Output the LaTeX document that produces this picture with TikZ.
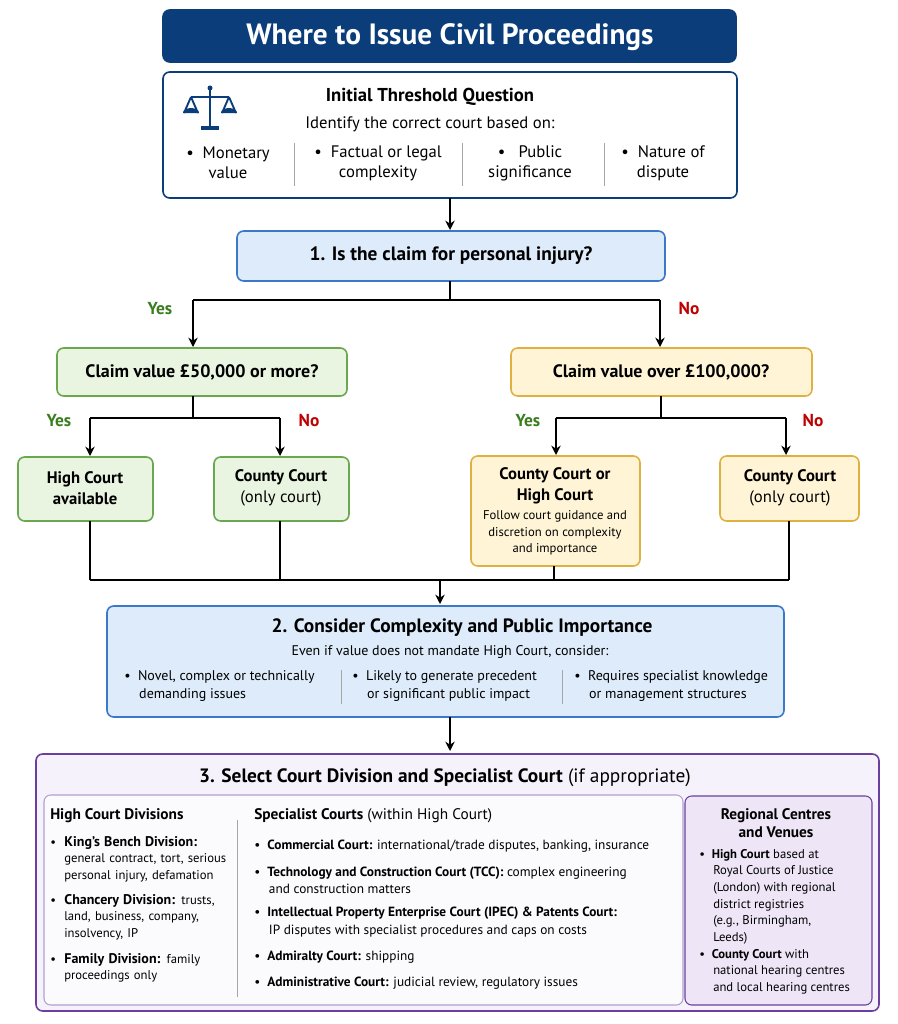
\documentclass[tikz,border=0pt]{standalone}
\usepackage{fontspec}
\setmainfont{PT Sans}
\usetikzlibrary{arrows.meta}
\definecolor{navy}{HTML}{0B3D7A}
\definecolor{bfill}{HTML}{DDEBFA}
\definecolor{bline}{HTML}{3A78C8}
\definecolor{gfill}{HTML}{E9F4E1}
\definecolor{gline}{HTML}{6AA84F}
\definecolor{gtext}{HTML}{3A7D1E}
\definecolor{yfill}{HTML}{FFF5D6}
\definecolor{yline}{HTML}{E0B040}
\definecolor{rtext}{HTML}{C00000}
\definecolor{pfill}{HTML}{F6F2FB}
\definecolor{pline}{HTML}{6A3FA0}
\definecolor{pfill2}{HTML}{EEE6F7}
\begin{document}
\begin{tikzpicture}[x=0.75pt,y=-0.75pt,
  box/.style={rounded corners=5pt,line width=1.2pt},
  arr/.style={line width=1.1pt,-{Stealth[length=7pt,width=7pt]}},
  ln/.style={line width=1.1pt},
  yes/.style={text=gtext,font=\bfseries\fontsize{13}{15}\selectfont},
  no/.style={text=rtext,font=\bfseries\fontsize{13}{15}\selectfont},
  t/.style={inner sep=0pt,align=center},
  sep/.style={draw=gray!70,line width=0.7pt}]
\useasboundingbox (0,0) rectangle (897,1024);
\fill[white] (0,0) rectangle (897,1024);
% title
\draw[box,fill=navy,draw=navy] (163,10) rectangle (736,62);
\node[t,text=white,font=\bfseries\fontsize{22}{26}\selectfont] (title) at (450,37) {Where to Issue Civil Proceedings};
% initial box
\draw[box,draw=navy,fill=white] (163,72) rectangle (737,198);
\begin{scope}[navy,line width=1.4pt]
\draw (210,88) -- (210,126); \draw (191,97) -- (229,97);
\fill (201,126) rectangle (219,130);
\draw (191,97) -- (184,113) (191,97) -- (198,113) (229,97) -- (222,113) (229,97) -- (236,113);
\fill (183,113) arc (180:360:8 and 5) -- cycle;
\fill (221,113) arc (180:360:8 and 5) -- cycle;
\fill (210,88) circle (2.5);
\end{scope}
\node[t,font=\bfseries\fontsize{14}{16}\selectfont] (itq) at (430,97) {Initial Threshold Question};
\node[t,font=\fontsize{12.5}{15}\selectfont] (itq2) at (430,124) {Identify the correct court based on:};
\begin{scope}[font=\fontsize{12.5}{15}\selectfont]
\node[t] (c1) at (228,163) {•\ \ Monetary\\value};
\node[t] (c2) at (378,163) {•\ \ Factual or legal\\complexity};
\node[t] (c3) at (530,163) {•\ \ \ Public\\significance};
\node[t] (c4) at (663,163) {•\ \ Nature of\\dispute};
\end{scope}
\draw[sep] (294,143) -- (294,186) (462,143) -- (462,186) (604,143) -- (604,186);
% q1
\draw[box,draw=bline,fill=bfill] (237,231) rectangle (665,281);
\node[t,font=\bfseries\fontsize{14.5}{17}\selectfont] (q1) at (451,256) {1. Is the claim for personal injury?};
\coordinate (itb) at (450,198);
\coordinate (q1t) at (450,230);
\draw[arr] (itb) -- (q1t);
\draw[ln] (450,281) -- (450,300);
\draw[ln] (193,300) -- (660,300);
\draw[arr] (193,300) -- (193,347);
\draw[arr] (660,300) -- (660,347);
\node[yes] (y1) at (160,309) {Yes};
\node[no] (n1) at (689,309) {No};
% value boxes
\draw[box,draw=gline,fill=gfill] (57,348) rectangle (347,396);
\node[t,font=\bfseries\fontsize{13.5}{16}\selectfont] (gv) at (202,372) {Claim value £50,000 or more?};
\draw[box,draw=yline,fill=yfill] (511,348) rectangle (812,396);
\node[t,font=\bfseries\fontsize{13.5}{16}\selectfont] (yv) at (661,372) {Claim value over £100,000?};
\draw[ln] (193,396) -- (193,418) (90,418) -- (280,418);
\draw[arr] (90,418) -- (90,456);
\draw[arr] (280,418) -- (280,456);
\draw[ln] (661,396) -- (661,418) (556,418) -- (786,418);
\draw[arr] (556,418) -- (556,455);
\draw[arr] (786,418) -- (786,455);
\node[yes] (y2) at (59,421) {Yes};
\node[no] (n2) at (309,421) {No};
\node[yes] (y3) at (528,421) {Yes};
\node[no] (n3) at (813,421) {No};
% outcome boxes
\draw[box,draw=gline,fill=gfill] (18,457) rectangle (153,521);
\node[t,font=\bfseries\fontsize{12.5}{16}\selectfont] (hc) at (85,488) {High Court\\available};
\draw[box,draw=gline,fill=gfill] (214,457) rectangle (349,521);
\node[t,font=\fontsize{12.5}{16}\selectfont] (cc1) at (281,488) {\textbf{County Court}\\(only court)};
\draw[box,draw=yline,fill=yfill] (471,456) rectangle (640,566);
\node[t,font=\bfseries\fontsize{12.5}{16}\selectfont] (cchc) at (555,486) {County Court or\\High Court};
\node[t,font=\fontsize{9.5}{12.5}\selectfont] (cchc2) at (555,533) {Follow court guidance and\\discretion on complexity\\and importance};
\draw[box,draw=yline,fill=yfill] (720,456) rectangle (859,521);
\node[t,font=\fontsize{12.5}{16}\selectfont] (cc2) at (790,488) {\textbf{County Court}\\(only court)};
\draw[ln] (90,521) -- (90,580) (280,521) -- (280,580) (554,566) -- (554,580) (789,521) -- (789,580) (90,580) -- (789,580);
\draw[arr] (440,580) -- (440,604);
% box 2
\draw[box,draw=bline,fill=bfill] (107,606) rectangle (784,717);
\node[t,font=\bfseries\fontsize{14.5}{17}\selectfont] (b2) at (462,628) {2. Consider Complexity and Public Importance};
\node[t,font=\fontsize{10.5}{13}\selectfont] (b2s) at (450,652) {Even if value does not mandate High Court, consider:};
\begin{scope}[font=\fontsize{10.5}{14}\selectfont]
\node[t,align=left,anchor=west] (p1) at (124,686) {•\ \ Novel, complex or technically\\\ \ \ \ demanding issues};
\node[t,align=left,anchor=west] (p2) at (352,686) {•\ \ Likely to generate precedent\\\ \ \ \ or significant public impact};
\node[t,align=left,anchor=west] (p3) at (574,686) {•\ \ Requires specialist knowledge\\\ \ \ \ or management structures};
\end{scope}
\draw[sep] (341,670) -- (341,704) (562,670) -- (562,704);
\draw[arr] (450,717) -- (450,751);
% box 3
\draw[box,draw=pline,fill=pfill] (36,754) rectangle (879,1011);
\node[t,font=\fontsize{14.5}{17}\selectfont] (b3) at (445,778) {\textbf{3. Select Court Division and Specialist Court} (if appropriate)};
\draw[rounded corners=5pt,draw=pline!50,line width=0.8pt,fill=white!60!pfill] (44,795) rectangle (683,1005);
\draw[sep] (237,820) -- (237,997);
\node[t,anchor=west,font=\bfseries\fontsize{11.5}{14}\selectfont] (hcd) at (50,816) {High Court Divisions};
\begin{scope}[font=\fontsize{9.5}{12.5}\selectfont]
\node[t,align=left,anchor=north west,text width=170] (kb) at (50,836) {•\ \ {\fontsize{10.5}{12.5}\selectfont\textbf{King’s Bench Division:}}\\\hspace*{10.5pt}general contract, tort, serious\\\hspace*{10.5pt}personal injury, defamation};
\node[t,align=left,anchor=north west,text width=170] (ch) at (50,894) {•\ \ {\fontsize{10.5}{12.5}\selectfont\textbf{Chancery Division:}} trusts,\\\hspace*{10.5pt}land, business, company,\\\hspace*{10.5pt}insolvency, IP};
\node[t,align=left,anchor=north west,text width=170] (fd) at (50,953) {•\ \ {\fontsize{10.5}{12.5}\selectfont\textbf{Family Division:}} family\\\hspace*{10.5pt}proceedings only};
\end{scope}
\node[t,anchor=west,font=\fontsize{11.5}{14}\selectfont] (sc) at (254,816) {\textbf{Specialist Courts} (within High Court)};
\begin{scope}[font=\fontsize{10}{13}\selectfont]
\node[t,align=left,anchor=west] (s1) at (254,846) {•\ \ \textbf{Commercial Court:} international/trade disputes, banking, insurance};
\node[t,align=left,anchor=west] (s2) at (254,880) {•\ \ \textbf{Technology and Construction Court (TCC):} complex engineering\\\hspace*{11pt}and construction matters};
\node[t,align=left,anchor=west] (s3) at (254,922) {•\ \ \textbf{Intellectual Property Enterprise Court (IPEC) \& Patents Court:}\\\hspace*{11pt}IP disputes with specialist procedures and caps on costs};
\node[t,align=left,anchor=west] (s4) at (254,957) {•\ \ \textbf{Admiralty Court:} shipping};
\node[t,align=left,anchor=west] (s5) at (254,983) {•\ \ \textbf{Administrative Court:} judicial review, regulatory issues};
\end{scope}
\draw[rounded corners=5pt,draw=pline,line width=0.8pt,fill=pfill2] (685,796) rectangle (872,1005);
\node[t,font=\bfseries\fontsize{11.5}{14}\selectfont] (rc) at (776,823) {Regional Centres\\and Venues};
\begin{scope}[font=\fontsize{9.5}{12.5}\selectfont]
\node[t,align=left,anchor=north west] (r1) at (699,849) {•\ \ \textbf{High Court} based at\\\hspace*{10.5pt}Royal Courts of Justice\\\hspace*{10.5pt}(London) with regional\\\hspace*{10.5pt}district registries\\\hspace*{10.5pt}(e.g., Birmingham,\\\hspace*{10.5pt}Leeds)};
\node[t,align=left,anchor=north west] (r2) at (699,949) {•\ \ \textbf{County Court} with\\\hspace*{10.5pt}national hearing centres\\\hspace*{10.5pt}and local hearing centres};
\end{scope}
\end{tikzpicture}
\end{document}
